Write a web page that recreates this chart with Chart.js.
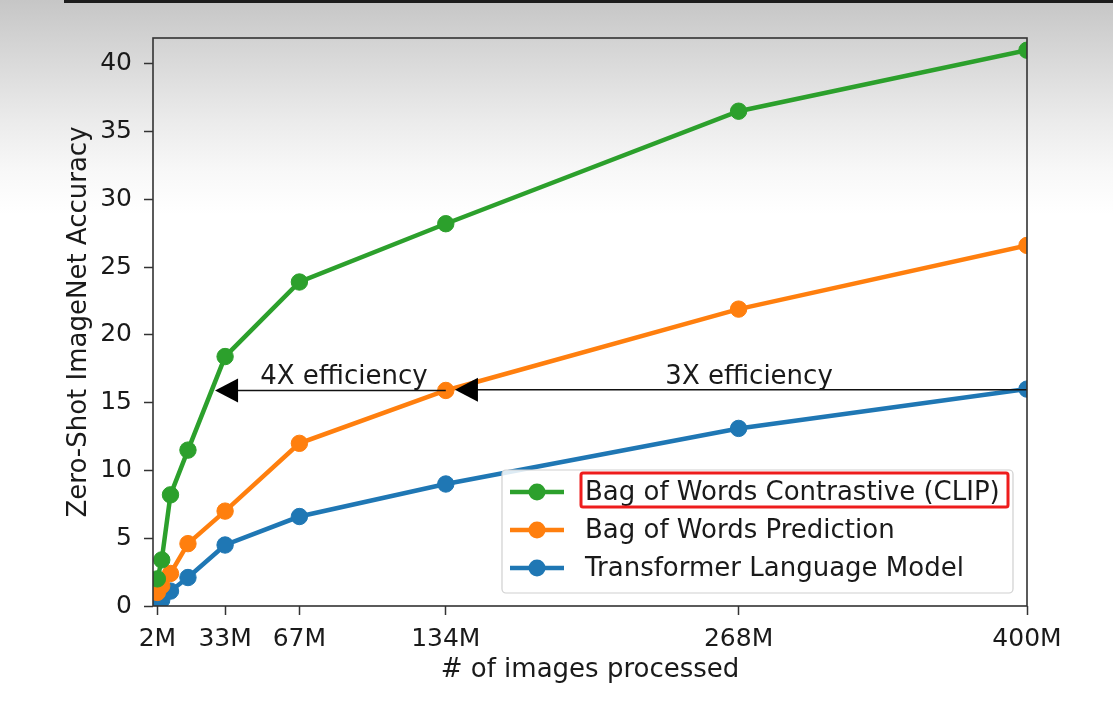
<!DOCTYPE html>
<html><head><meta charset="utf-8">
<script src="https://cdn.jsdelivr.net/npm/chart.js@4/dist/chart.umd.min.js"></script>
<style>html,body{margin:0;padding:0;background:#fff;overflow:hidden}#wrap{width:1113px;height:714px;position:relative}</style>
</head><body><div id="wrap"><canvas id="c"></canvas></div>
<script>
// ---- data ----
const imagesM = [2, 4, 8, 16, 33, 67, 134, 268, 400];
const clipAcc = [2.0, 3.4, 8.2, 11.5, 18.4, 23.9, 28.2, 36.5, 41.0];
const bowPredAcc = [1.0, 1.5, 2.4, 4.6, 7.0, 12.0, 15.9, 21.9, 26.6];
const transformerAcc = [0.2, 0.45, 1.1, 2.1, 4.5, 6.6, 9.0, 13.1, 16.0];
const xTickValues = [2, 33, 67, 134, 268, 400];
const xTickLabels = ['2M', '33M', '67M', '134M', '268M', '400M'];
const yTickValues = [0, 5, 10, 15, 20, 25, 30, 35, 40];
const seriesNames = ['Bag of Words Contrastive (CLIP)', 'Bag of Words Prediction', 'Transformer Language Model'];
const seriesColors = ['#2ca02c', '#ff7f0e', '#1f77b4'];
const arrowFrom = [134, 400];
const arrowTo = [28.4, 138.2];
const arrowY = [15.9, 15.95];
const arrowLabels = ['4X efficiency', '3X efficiency'];
const arrowLabelX = [87.4, 272.8];
const arrowLabelY = [16.85, 16.85];

const FONT = '"DejaVu Sans", sans-serif';
const TXT = '#1a1a1a';

const series = [clipAcc, bowPredAcc, transformerAcc];
const datasets = series.map((vals, i) => ({
  label: seriesNames[i],
  data: imagesM.map((x, j) => ({x: x, y: vals[j]})),
  borderColor: seriesColors[i],
  backgroundColor: seriesColors[i],
  pointBackgroundColor: seriesColors[i],
  pointBorderColor: seriesColors[i],
  borderWidth: 4.5,
  pointRadius: 8.2,
  pointBorderWidth: 1,
  tension: 0,
  order: i
}));

const bgPlugin = {
  id: 'bg',
  beforeDraw(chart) {
    const {ctx, width, height} = chart;
    ctx.save();
    const g = ctx.createLinearGradient(0, 0, 0, 215);
    g.addColorStop(0, '#c6c6c6');
    g.addColorStop(0.28, '#d9d9d9');
    g.addColorStop(0.56, '#ebebeb');
    g.addColorStop(0.8, '#f8f8f8');
    g.addColorStop(1, '#ffffff');
    ctx.fillStyle = '#ffffff';
    ctx.fillRect(0, 0, width, height);
    ctx.fillStyle = g;
    ctx.fillRect(0, 0, width, 215);
    ctx.fillStyle = '#1c1c1c';
    ctx.fillRect(64, 0, width - 64, 3);
    ctx.restore();
  }
};

const overlayPlugin = {
  id: 'overlay',
  afterDatasetsDraw(chart) {
    const {ctx, chartArea: a, scales} = chart;
    const xs = scales.x, ys = scales.y;
    ctx.save();
    // arrows
    for (let i = 0; i < arrowFrom.length; i++) {
      const x0 = xs.getPixelForValue(arrowFrom[i]);
      const x1 = xs.getPixelForValue(arrowTo[i]);
      const y = ys.getPixelForValue(arrowY[i]);
      ctx.strokeStyle = '#111';
      ctx.lineWidth = 1.6;
      ctx.beginPath(); ctx.moveTo(x0, y); ctx.lineTo(x1 + 10, y); ctx.stroke();
      ctx.fillStyle = '#000';
      ctx.beginPath();
      ctx.moveTo(x1, y);
      ctx.lineTo(x1 + 23, y - 12);
      ctx.lineTo(x1 + 23, y + 12);
      ctx.closePath(); ctx.fill();
      ctx.font = '26px ' + FONT;
      ctx.fillStyle = TXT;
      ctx.textAlign = 'center';
      ctx.textBaseline = 'middle';
      ctx.fillText(arrowLabels[i], xs.getPixelForValue(arrowLabelX[i]), ys.getPixelForValue(arrowLabelY[i]));
    }
    // frame
    ctx.strokeStyle = '#333';
    ctx.lineWidth = 1.6;
    ctx.strokeRect(a.left, a.top, a.right - a.left, a.bottom - a.top);
    // legend
    const L = 502, T = 470, R = 1013, B = 593;
    ctx.fillStyle = 'rgba(255,255,255,0.85)';
    ctx.strokeStyle = '#d0d0d0';
    ctx.lineWidth = 1.2;
    ctx.beginPath();
    ctx.roundRect(L, T, R - L, B - T, 4);
    ctx.fill(); ctx.stroke();
    const rows = [492, 530, 568];
    ctx.font = '26px ' + FONT;
    ctx.textAlign = 'left';
    ctx.textBaseline = 'middle';
    for (let i = 0; i < seriesNames.length; i++) {
      const yy = rows[i];
      ctx.strokeStyle = seriesColors[i];
      ctx.lineWidth = 4.5;
      ctx.beginPath(); ctx.moveTo(510, yy); ctx.lineTo(564, yy); ctx.stroke();
      ctx.fillStyle = seriesColors[i];
      ctx.beginPath(); ctx.arc(537, yy, 8.5, 0, Math.PI * 2); ctx.fill();
      ctx.fillStyle = TXT;
      ctx.fillText(seriesNames[i], 585, yy + 1);
    }
    // red highlight box
    ctx.strokeStyle = '#ee1c1c';
    ctx.lineWidth = 3;
    ctx.beginPath();
    ctx.roundRect(581, 473, 427, 34, 2);
    ctx.stroke();
    ctx.restore();
  }
};

new Chart(document.getElementById('c'), {
  type: 'line',
  data: {datasets},
  plugins: [bgPlugin, overlayPlugin],
  options: {
    responsive: true,
    maintainAspectRatio: false,
    animation: false,
    devicePixelRatio: 1,
    layout: {padding: {top: 38, right: 86, left: 0, bottom: 0}},
    plugins: {legend: {display: false}, tooltip: {enabled: false}},
    scales: {
      x: {
        type: 'linear',
        min: 0, max: 400,
        afterFit(s) { s.height = 108; },
        afterBuildTicks(s) { s.ticks = xTickValues.map(v => ({value: v})); },
        ticks: {
          autoSkip: false, maxRotation: 0,
          padding: 9,
          color: TXT,
          font: {family: FONT, size: 25},
          callback(v) { const k = xTickValues.indexOf(v); return k >= 0 ? xTickLabels[k] : ''; }
        },
        grid: {drawOnChartArea: false, drawTicks: true, tickLength: 9, tickColor: '#333', tickWidth: 1.5},
        border: {display: false},
        title: {display: true, text: '# of images processed', color: TXT, font: {family: FONT, size: 26}, padding: {top: 0, bottom: 28}}
      },
      y: {
        type: 'linear',
        min: 0, max: 41.9,
        afterFit(s) { s.width = 153; },
        afterBuildTicks(s) { s.ticks = yTickValues.map(v => ({value: v})); },
        ticks: {color: TXT, font: {family: FONT, size: 25}, padding: 12},
        grid: {drawOnChartArea: false, drawTicks: true, tickLength: 9, tickColor: '#333', tickWidth: 1.5},
        border: {display: false},
        title: {display: true, text: 'Zero-Shot ImageNet Accuracy', color: TXT, font: {family: FONT, size: 26}, padding: {top: 64, bottom: 0}}
      }
    }
  }
});
</script></body></html>
